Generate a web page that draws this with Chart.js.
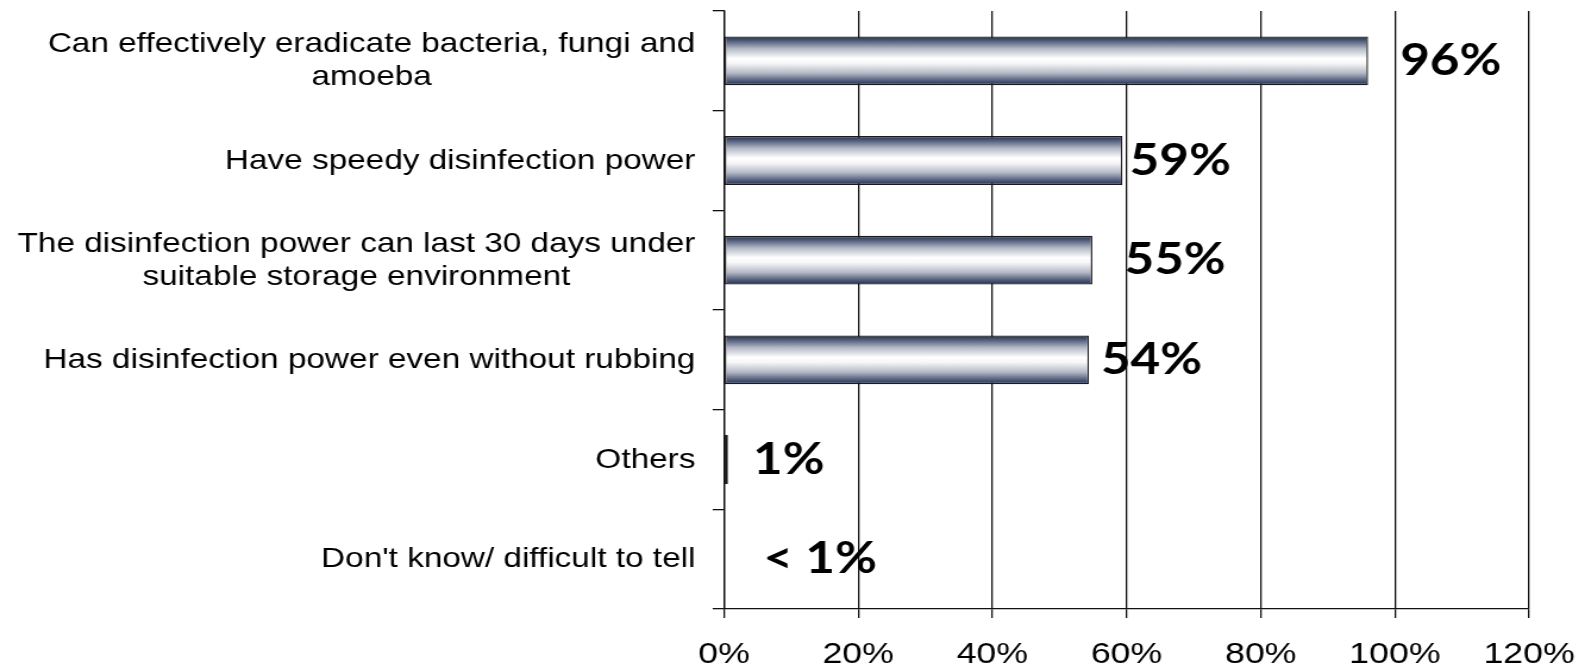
<!DOCTYPE html>
<html>
<head>
<meta charset="utf-8">
<script src="https://cdn.jsdelivr.net/npm/chart.js@4/dist/chart.umd.min.js"></script>
<style>
  html, body { margin: 0; padding: 0; background: #fff; }
  #chart { display: block; }
</style>
</head>
<body>
<!-- drawn at 1332 wide, shown stretched to 1585 like the original picture -->
<canvas id="chart" width="1332" height="668" style="width:1585px;height:668px"></canvas>
<script>
const categories = [
  ["Can effectively eradicate bacteria, fungi and", "amoeba"],
  ["Have speedy disinfection power"],
  ["The disinfection power can last 30 days under", "suitable storage environment"],
  ["Has disinfection power even without rubbing"],
  ["Others"],
  ["Don't know/ difficult to tell"]
];
const values = [96, 59.4, 54.9, 54.4, 0.6, 0];
const valueLabels = ["96%", "59%", "55%", "54%", "1%", "< 1%"];

// space between bar end and its value label (canvas px)
const labelPad = [27, 6, 27, 10, 21, 33];

const ink = "#111";

function barGradient(context) {
  const chart = context.chart;
  const y = chart.scales.y;
  if (!chart.chartArea || !y) return "#c8ccd6";
  const mid = y.getPixelForValue(context.dataIndex);
  const half = (y.height / categories.length) * 0.49 / 2;
  const g = chart.ctx.createLinearGradient(0, mid - half, 0, mid + half);
  g.addColorStop(0, "#1e2c4c");
  g.addColorStop(0.1, "#55617e");
  g.addColorStop(0.25, "#b4b9c6");
  g.addColorStop(0.45, "#ffffff");
  g.addColorStop(0.55, "#f7f7f9");
  g.addColorStop(0.75, "#b4b9c6");
  g.addColorStop(0.9, "#55617e");
  g.addColorStop(1, "#1e2c4c");
  return g;
}

// category names, right-aligned block with centred lines
const categoryText = {
  id: "categoryText",
  afterDraw(chart) {
    const { ctx, chartArea, scales } = chart;
    const right = chartArea.left - 24;
    ctx.save();
    ctx.font = '28px "Liberation Sans", Arial, sans-serif';
    ctx.fillStyle = "#000";
    ctx.textAlign = "center";
    ctx.textBaseline = "alphabetic";
    categories.forEach((lines, i) => {
      const widest = Math.max(...lines.map(l => ctx.measureText(l).width));
      const cx = right - widest / 2;
      const cy = scales.y.getPixelForValue(i) - 2;
      const step = 33;
      lines.forEach((line, k) => {
        const ly = cy + (k - (lines.length - 1) / 2) * step;
        ctx.fillText(line, cx, ly + 10);
      });
    });
    ctx.restore();
  }
};

// big value labels next to the bars
const valueText = {
  id: "valueText",
  afterDatasetsDraw(chart) {
    const { ctx, scales } = chart;
    ctx.save();
    ctx.font = 'bold 43px Lato, "DejaVu Sans", sans-serif';
    ctx.fillStyle = "#000";
    ctx.textAlign = "left";
    ctx.textBaseline = "alphabetic";
    values.forEach((v, i) => {
      const x = scales.x.getPixelForValue(v) + labelPad[i];
      const y = scales.y.getPixelForValue(i);
      ctx.fillText(valueLabels[i], x, y + 14);
    });
    ctx.restore();
  }
};

new Chart(document.getElementById("chart"), {
  type: "bar",
  data: {
    labels: categories,
    datasets: [{
      data: values,
      backgroundColor: barGradient,
      borderColor: "#1a1a1a",
      borderWidth: 1.4,
      borderSkipped: false,
      barPercentage: 0.49,
      categoryPercentage: 1
    }]
  },
  options: {
    indexAxis: "y",
    responsive: false,
    devicePixelRatio: 1,
    animation: false,
    layout: { padding: { top: 11, right: 47, left: 0, bottom: 0 } },
    plugins: {
      legend: { display: false },
      tooltip: { enabled: false }
    },
    scales: {
      x: {
        min: 0,
        max: 120,
        ticks: {
          stepSize: 20,
          color: "#000",
          padding: 19,
          font: { family: "'Liberation Sans', Arial, sans-serif", size: 30 },
          callback: v => v + "%"
        },
        grid: { color: ink, lineWidth: 1.3, tickLength: 9, drawOnChartArea: true },
        border: { display: true, color: ink, width: 1.3 },
        afterFit(scale) {
          scale.height = 59;
          scale.paddingLeft = 0;
          scale.paddingRight = 0;
        }
      },
      y: {
        ticks: { display: false },
        grid: { color: ink, lineWidth: 1.3, tickLength: 9.5, drawOnChartArea: false, offset: true },
        border: { display: true, color: ink, width: 1.3 },
        afterFit(scale) { scale.width = 608.4; }
      }
    }
  },
  plugins: [categoryText, valueText]
});
</script>
</body>
</html>
